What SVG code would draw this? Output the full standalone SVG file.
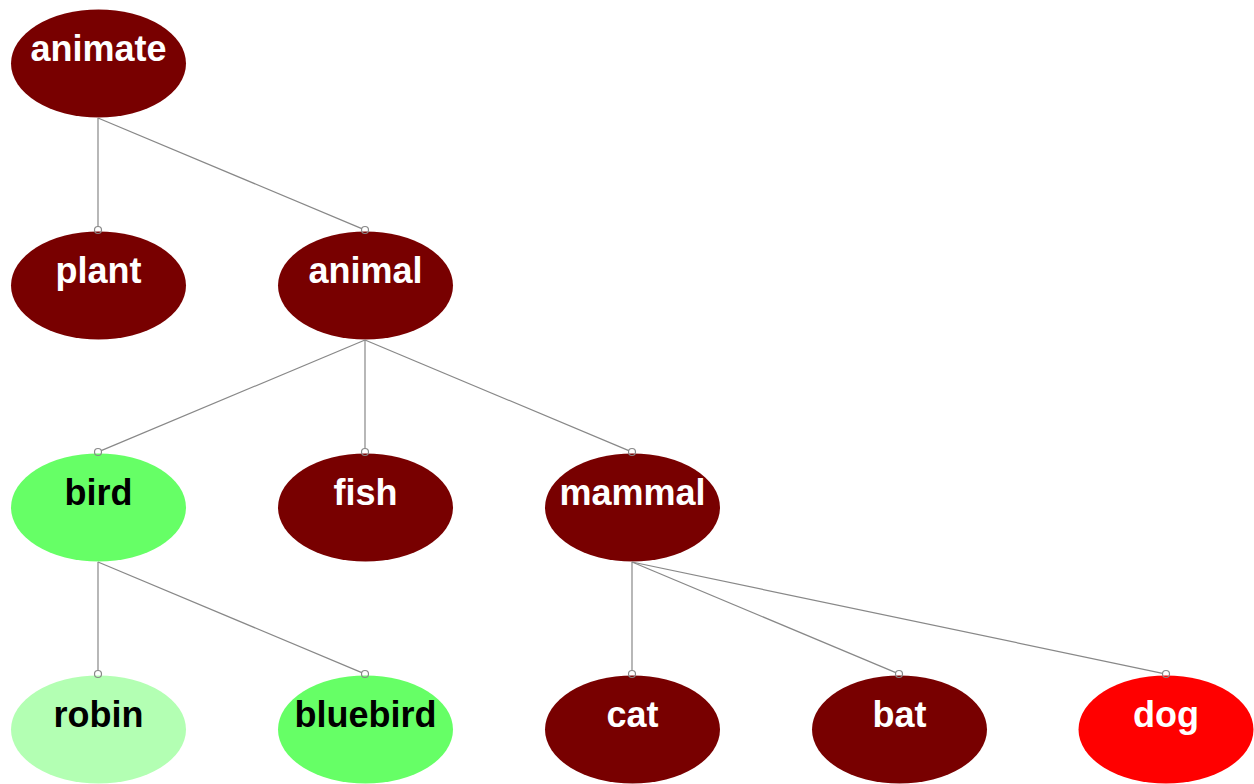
<svg xmlns="http://www.w3.org/2000/svg" width="1254" height="784" viewBox="0 0 1254 784">
  <style>
    .n ellipse { stroke: none; }
    .dark ellipse { fill: #780000; }
    .green ellipse { fill: #66ff66; }
    .pale ellipse { fill: #b3ffb3; }
    .red ellipse { fill: #ff0000; }
    .n text { font-family: "Liberation Sans", Arial, sans-serif; font-weight: bold; font-size: 36px; text-anchor: middle; }
    .dark text, .red text { fill: #ffffff; }
    .green text, .pale text { fill: #000000; }
    #edges line { stroke: #888888; stroke-width: 1.2; }
    #edges circle { fill: none; stroke: #888888; stroke-width: 1.2; }
  </style>

  <g id="animate" class="n dark"><ellipse cx="98.5" cy="63.5" rx="87.5" ry="54"/><text x="98.5" y="61">animate</text></g>
  <g id="plant" class="n dark"><ellipse cx="98.5" cy="285.5" rx="87.5" ry="54"/><text x="98.5" y="283">plant</text></g>
  <g id="animal" class="n dark"><ellipse cx="365.5" cy="285.5" rx="87.5" ry="54"/><text x="365.5" y="283">animal</text></g>
  <g id="bird" class="n green"><ellipse cx="98.5" cy="507.5" rx="87.5" ry="54"/><text x="98.5" y="505">bird</text></g>
  <g id="fish" class="n dark"><ellipse cx="365.5" cy="507.5" rx="87.5" ry="54"/><text x="365.5" y="505">fish</text></g>
  <g id="mammal" class="n dark"><ellipse cx="632.5" cy="507.5" rx="87.5" ry="54"/><text x="632.5" y="505">mammal</text></g>
  <g id="robin" class="n pale"><ellipse cx="98.5" cy="729.5" rx="87.5" ry="54"/><text x="98.5" y="727">robin</text></g>
  <g id="bluebird" class="n green"><ellipse cx="365.5" cy="729.5" rx="87.5" ry="54"/><text x="365.5" y="727">bluebird</text></g>
  <g id="cat" class="n dark"><ellipse cx="632.5" cy="729.5" rx="87.5" ry="54"/><text x="632.5" y="727">cat</text></g>
  <g id="bat" class="n dark"><ellipse cx="899.5" cy="729.5" rx="87.5" ry="54"/><text x="899.5" y="727">bat</text></g>
  <g id="dog" class="n red"><ellipse cx="1166" cy="729.5" rx="87.5" ry="54"/><text x="1166" y="727">dog</text></g>

  <!-- connectors: parent bottom to child top, small ring at child end -->
  <g id="edges">
    <line x1="98" y1="118" x2="98" y2="226.5"/><circle cx="98" cy="230" r="3.5"/>
    <line x1="98" y1="118" x2="361.8" y2="228.6"/><circle cx="365" cy="230" r="3.5"/>
    <line x1="365" y1="340" x2="101.2" y2="450.6"/><circle cx="98" cy="452" r="3.5"/>
    <line x1="365" y1="340" x2="365" y2="448.5"/><circle cx="365" cy="452" r="3.5"/>
    <line x1="365" y1="340" x2="628.8" y2="450.6"/><circle cx="632" cy="452" r="3.5"/>
    <line x1="98" y1="562" x2="98" y2="670.5"/><circle cx="98" cy="674" r="3.5"/>
    <line x1="98" y1="562" x2="361.8" y2="672.6"/><circle cx="365" cy="674" r="3.5"/>
    <line x1="632" y1="562" x2="632" y2="670.5"/><circle cx="632" cy="674" r="3.5"/>
    <line x1="632" y1="562" x2="895.8" y2="672.6"/><circle cx="899" cy="674" r="3.5"/>
    <line x1="632" y1="562" x2="1162.6" y2="673.3"/><circle cx="1166" cy="674" r="3.5"/>
  </g>
</svg>
